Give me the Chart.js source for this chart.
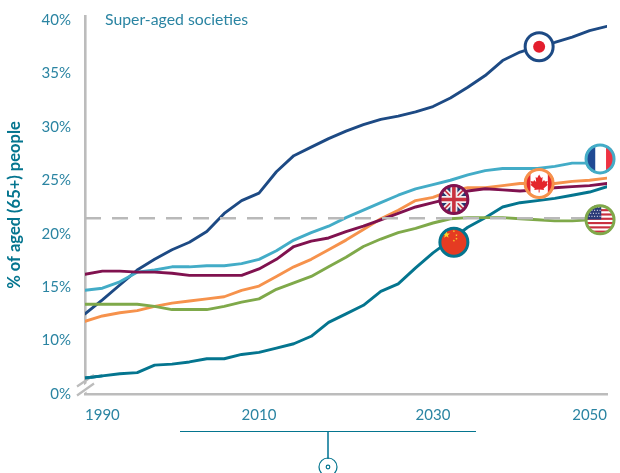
<!DOCTYPE html>
<html>
<head>
<meta charset="utf-8">
<style>
html,body{margin:0;padding:0;background:#fff;overflow:hidden}
#wrap{position:absolute;left:0;top:0;width:620px;height:473px}
</style>
<script src="https://cdn.jsdelivr.net/npm/chart.js@4/dist/chart.umd.min.js"></script>
</head>
<body>
<div id="wrap"><canvas id="c" width="620" height="473"></canvas></div>
<script>
const years = [1990,1992,1994,1996,1998,2000,2002,2004,2006,2008,2010,2012,2014,2016,2018,2020,2022,2024,2026,2028,2030,2032,2034,2036,2038,2040,2042,2044,2046,2048,2050];
const japan  = [12.5,13.8,15.2,16.6,17.6,18.5,19.2,20.2,21.9,23.1,23.8,25.8,27.3,28.1,28.9,29.6,30.2,30.7,31.0,31.4,31.9,32.7,33.7,34.8,36.2,37.0,37.5,37.9,38.4,39.0,39.4];
const france = [14.7,14.9,15.5,16.4,16.6,16.9,16.9,17.0,17.0,17.2,17.6,18.4,19.4,20.1,20.7,21.5,22.2,22.9,23.6,24.2,24.6,25.0,25.5,25.9,26.1,26.1,26.1,26.3,26.6,26.6,26.9];
const canada = [11.8,12.3,12.6,12.8,13.2,13.5,13.7,13.9,14.1,14.7,15.1,16.0,16.9,17.6,18.5,19.4,20.4,21.4,22.2,23.1,23.4,24.0,24.3,24.3,24.5,24.7,24.7,24.7,24.9,25.0,25.2];
const uk     = [16.2,16.5,16.5,16.4,16.4,16.3,16.1,16.1,16.1,16.1,16.7,17.6,18.8,19.3,19.6,20.2,20.7,21.3,21.9,22.5,22.9,23.3,24.0,24.2,24.1,24.0,24.1,24.3,24.4,24.5,24.7];
const usa    = [13.4,13.4,13.4,13.4,13.2,12.9,12.9,12.9,13.2,13.6,13.9,14.8,15.4,16.0,16.9,17.8,18.8,19.5,20.1,20.5,21.0,21.4,21.5,21.5,21.5,21.4,21.3,21.2,21.2,21.3,21.3];
const china  = [6.5,6.7,6.9,7.0,7.7,7.8,8.0,8.3,8.3,8.7,8.9,9.3,9.7,10.4,11.7,12.5,13.3,14.6,15.3,16.8,18.2,19.4,20.6,21.5,22.5,22.9,23.1,23.3,23.6,23.9,24.4];
const superAgedLevel = 21.45;
const xTicks = [1990,2010,2030,2050];
const yTicks = [5,10,15,20,25,30,35,40];
const brokenBase = 5;
const markerNames = ['japan','france','canada','uk','usa','china'];
const markerYears = [2042.2,2049.2,2042.2,2032.4,2049.2,2032.4];
const markerValues = [37.5,27.0,24.7,23.2,21.3,19.2];

const TEAL='#04758f', TICK='#2a84a2', GREY='#bcbcbc';
const colors={japan:'#1d4a84',france:'#43acc7',canada:'#f6924c',uk:'#80124f',usa:'#7fa94a',china:'#04758f'};
const pts=a=>a.map((v,i)=>({x:years[i],y:v}));
const line=(label,data,color)=>({label,data:pts(data),borderColor:color,borderWidth:2.9,pointRadius:0,tension:0,fill:false,borderJoinStyle:'round',borderCapStyle:'round'});

function star(ctx,cx,cy,r,fill){
  ctx.fillStyle=fill;ctx.beginPath();
  for(let i=0;i<10;i++){const a=-Math.PI/2+i*Math.PI/5,q=i%2?r*0.42:r;
    ctx.lineTo(cx+q*Math.cos(a),cy+q*Math.sin(a));}
  ctx.closePath();ctx.fill();
}
const flags={
  japan(c,x,y,r){c.fillStyle='#fff';c.fillRect(x-r,y-r,2*r,2*r);c.fillStyle='#e31e2d';c.beginPath();c.arc(x,y,6,0,7);c.fill();},
  france(c,x,y,r){c.fillStyle='#fff';c.fillRect(x-r,y-r,2*r,2*r);c.fillStyle='#1f4a94';c.fillRect(x-r,y-r,r*0.68,2*r);c.fillStyle='#ee3242';c.fillRect(x+r*0.4,y-r,r,2*r);},
  canada(c,x,y,r){
    c.fillStyle='#fff';c.fillRect(x-r,y-r,2*r,2*r);
    c.fillStyle='#e4262c';c.fillRect(x-r,y-r,r*0.42,2*r);c.fillRect(x+r*0.58,y-r,r,2*r);
    const p=[[0,-9],[2,-5.5],[3.5,-6.5],[3,-1.5],[5,-3.5],[5.8,-2],[8.6,-2.5],[7.6,0.6],[8.8,1.4],[4.4,5],[4.9,6.5],[0.5,6],[0.5,9],[-0.5,9],[-0.5,6],[-4.9,6.5],[-4.4,5],[-8.8,1.4],[-7.6,0.6],[-8.6,-2.5],[-5.8,-2],[-5,-3.5],[-3,-1.5],[-3.5,-6.5],[-2,-5.5]];
    c.beginPath();p.forEach(q=>c.lineTo(x+q[0],y+q[1]));c.closePath();c.fill();
  },
  uk(c,x,y,r){
    c.fillStyle='#25386f';c.fillRect(x-r,y-r,2*r,2*r);
    c.lineCap='butt';
    c.strokeStyle='#f1eef0';c.lineWidth=5;
    c.beginPath();c.moveTo(x-r,y-r);c.lineTo(x+r,y+r);c.moveTo(x+r,y-r);c.lineTo(x-r,y+r);c.stroke();
    c.strokeStyle='#c8323f';c.lineWidth=1.7;
    c.beginPath();c.moveTo(x-r,y-r);c.lineTo(x+r,y+r);c.moveTo(x+r,y-r);c.lineTo(x-r,y+r);c.stroke();
    c.strokeStyle='#f1eef0';c.lineWidth=7;
    c.beginPath();c.moveTo(x,y-r);c.lineTo(x,y+r);c.moveTo(x-r,y);c.lineTo(x+r,y);c.stroke();
    c.strokeStyle='#c8323f';c.lineWidth=3.6;
    c.beginPath();c.moveTo(x,y-r);c.lineTo(x,y+r);c.moveTo(x-r,y);c.lineTo(x+r,y);c.stroke();
  },
  usa(c,x,y,r){
    c.fillStyle='#fff';c.fillRect(x-r,y-r,2*r,2*r);
    c.fillStyle='#c9303f';
    for(let i=0;i<7;i++)c.fillRect(x-r,y-r+i*4.3,2*r,2.15);
    c.fillStyle='#2a3a78';c.fillRect(x-r,y-r,r*1.08,r*0.98);
    c.fillStyle='#fff';
    for(let a=0;a<4;a++)for(let b=0;b<5;b++)c.fillRect(x-r+2.5+b*2.7+(a%2)*1.2,y-r+2+a*3,1,1);
  },
  china(c,x,y,r){
    c.fillStyle='#e53b22';c.fillRect(x-r,y-r,2*r,2*r);
    star(c,x-7.5,y-7.5,3.8,'#fbd52b');
    [[0,-11],[2.6,-7],[2.6,-3.5],[0,-1.5]].forEach(q=>star(c,x+q[0],y+q[1],1.2,'#fbd52b'));
  }
};

const overlay={
  id:'overlay',
  afterDraw(ch){
    const c=ch.ctx,xs=ch.scales.x,ys=ch.scales.y,a=ch.chartArea;
    c.save();
    const bx=a.left;
    c.fillStyle='#fff';
    c.beginPath();c.moveTo(bx-5,a.bottom-6);c.lineTo(bx+5,a.bottom-13);c.lineTo(bx+5,a.bottom-4.5);c.lineTo(bx-5,a.bottom+1.5);c.closePath();c.fill();
    c.strokeStyle=GREY;c.lineWidth=2.2;c.lineCap='butt';
    c.beginPath();c.moveTo(bx-8,a.bottom-7.5);c.lineTo(bx+9,a.bottom-19);c.moveTo(bx-8,a.bottom+1.5);c.lineTo(bx+9,a.bottom-10.5);c.stroke();
    c.strokeStyle=colors.china;c.lineWidth=2.9;c.beginPath();
    c.moveTo(xs.getPixelForValue(years[0]),ys.getPixelForValue(china[0]));
    c.lineTo(xs.getPixelForValue(years[1]),ys.getPixelForValue(china[1]));c.stroke();
    c.fillStyle=TICK;c.font='15.8px Lato';c.textAlign='left';c.textBaseline='middle';
    c.fillText('Super-aged societies',105,20);
    c.strokeStyle=TEAL;c.lineWidth=1;
    c.beginPath();c.moveTo(180,431.5);c.lineTo(476,431.5);c.stroke();
    c.strokeStyle='#3d95ae';c.lineWidth=2;
    c.beginPath();c.moveTo(328,432);c.lineTo(328,459);c.stroke();
    c.strokeStyle=TEAL;c.lineWidth=1.2;
    c.beginPath();c.arc(328,467,9,0,7);c.stroke();
    c.beginPath();c.arc(328,467,1.8,0,7);c.stroke();
    markerNames.forEach((n,i)=>{
      const x=xs.getPixelForValue(markerYears[i]),y=ys.getPixelForValue(markerValues[i]),r=15;
      c.save();c.beginPath();c.arc(x,y,r,0,7);c.clip();flags[n](c,x,y,r);c.restore();
      c.strokeStyle=colors[n];c.lineWidth=3;c.beginPath();c.arc(x,y,r-1,0,7);c.stroke();
    });
    c.restore();
  }
};

new Chart(document.getElementById('c'),{
  type:'line',
  data:{datasets:[
    {label:'Super-aged threshold',data:[{x:1990,y:superAgedLevel},{x:2049,y:superAgedLevel}],borderColor:'#b9b9b9',borderWidth:2.5,borderDash:[16,11],pointRadius:0,tension:0},
    line('United States',usa,colors.usa),
    line('China',china,colors.china),
    line('United Kingdom',uk,colors.uk),
    line('Canada',canada,colors.canada),
    line('France',france,colors.france),
    line('Japan',japan,colors.japan)
  ]},
  plugins:[overlay],
  options:{
    responsive:false,animation:false,
    layout:{padding:{left:0,top:16,right:13,bottom:0}},
    plugins:{legend:{display:false},title:{display:false},tooltip:{enabled:false}},
    scales:{
      x:{type:'linear',min:years[0],max:years[years.length-1],
        afterFit(s){s.height=79;s.paddingLeft=0;s.paddingRight=0;},
        afterBuildTicks(s){s.ticks=xTicks.map(v=>({value:v}));},
        grid:{display:false,drawTicks:false},
        border:{display:true,color:GREY,width:2.6},
        ticks:{align:'inner',maxRotation:0,autoSkip:false,padding:12,color:TICK,font:{family:'Lato',size:15},callback:v=>String(v)}
      },
      y:{type:'linear',min:brokenBase,max:40.37,
        afterFit(s){s.width=85;s.paddingTop=0;s.paddingBottom=0;},
        afterBuildTicks(s){s.ticks=yTicks.map(v=>({value:v}));},
        grid:{display:false,drawTicks:false},
        border:{display:true,color:GREY,width:2.6},
        title:{display:true,text:'% of aged (65+) people',color:TEAL,font:{family:'Lato',size:16.5,weight:'bold'},padding:{top:5,bottom:0}},
        ticks:{padding:14,color:TICK,font:{family:'Lato',size:15},callback:v=>v===brokenBase?'0%':v+'%'}
      }
    }
  }
});
</script>
</body>
</html>
